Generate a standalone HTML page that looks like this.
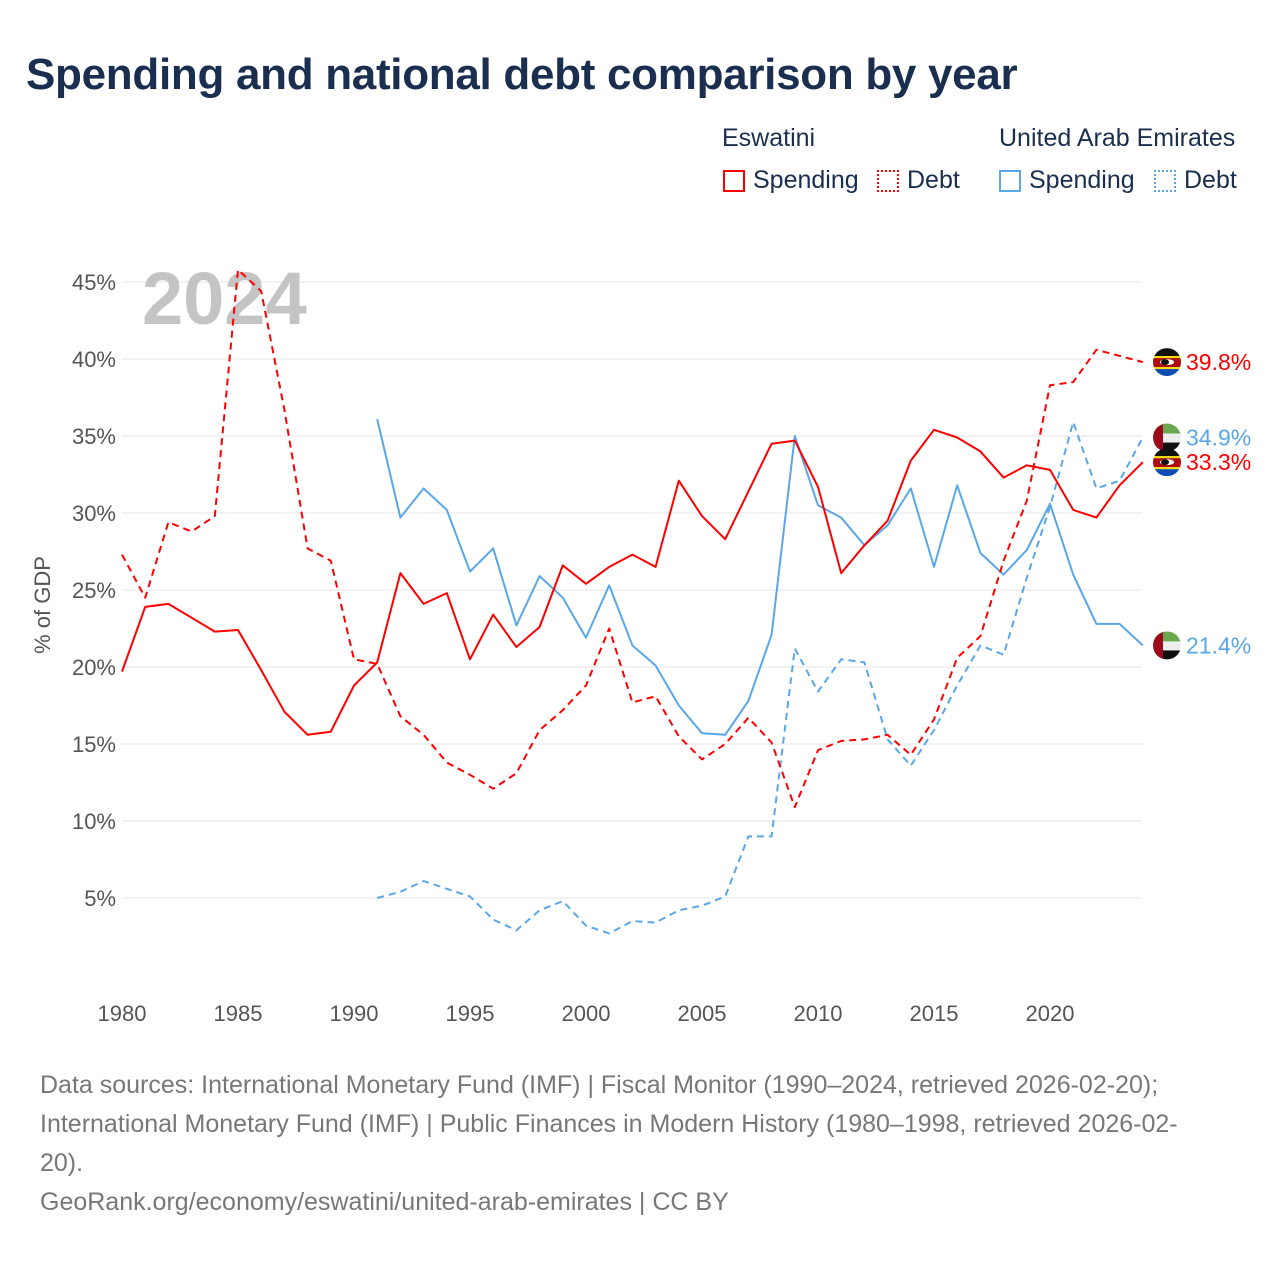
<!DOCTYPE html>
<html><head><meta charset="utf-8">
<style>
body{margin:0;background:#fff;font-family:"Liberation Sans",sans-serif;}
#wrap{position:relative;width:1280px;height:1280px;overflow:hidden;}
h1{position:absolute;left:26px;top:50px;margin:0;font-size:44px;font-weight:bold;color:#1a2e4f;letter-spacing:-0.3px;}
.src{position:absolute;left:40px;top:1066px;width:1230px;font-size:25px;line-height:39px;color:#777;white-space:nowrap;}
.lg{position:absolute;font-size:25px;color:#1a2e4f;}
.box{position:absolute;width:22px;height:22px;box-sizing:border-box;}
</style></head><body>
<div id="wrap">
<h1>Spending and national debt comparison by year</h1>
<div class="lg" style="left:722px;top:124px">Eswatini</div>
<div class="lg" style="left:999px;top:124px">United Arab Emirates</div>
<div class="box" style="left:723px;top:170px;border:2px solid #f00"></div>
<div class="lg" style="left:753px;top:166px">Spending</div>
<div class="box" style="left:877px;top:170px;border:2px dotted #f00"></div>
<div class="lg" style="left:907px;top:166px">Debt</div>
<div class="box" style="left:999px;top:170px;border:2px solid #5aa7e8"></div>
<div class="lg" style="left:1029px;top:166px">Spending</div>
<div class="box" style="left:1154px;top:170px;border:2px dotted #5aa7e8"></div>
<div class="lg" style="left:1184px;top:166px">Debt</div>
<svg id="chart" width="1280" height="1280" style="position:absolute;left:0;top:0"></svg>
<div class="src">Data sources: International Monetary Fund (IMF) | Fiscal Monitor (1990–2024, retrieved 2026-02-20);<br>International Monetary Fund (IMF) | Public Finances in Modern History (1980–1998, retrieved 2026-02-<br>20).<br>GeoRank.org/economy/eswatini/united-arab-emirates | CC BY</div>
</div>
<script>
const swzSpending=[19.7,23.9,24.1,23.2,22.3,22.4,19.8,17.1,15.6,15.8,18.8,20.3,26.1,24.1,24.8,20.5,23.4,21.3,22.6,26.6,25.4,26.5,27.3,26.5,32.1,29.8,28.3,31.4,34.5,34.7,31.7,26.1,27.9,29.5,33.4,35.4,34.9,34.0,32.3,33.1,32.8,30.2,29.7,31.8,33.3];
const swzDebt=[27.3,24.5,29.4,28.8,29.8,45.8,44.4,36.7,27.7,26.9,20.5,20.2,16.8,15.6,13.8,13.0,12.1,13.1,15.9,17.2,18.8,22.5,17.7,18.1,15.5,14.0,15.0,16.7,15.1,10.9,14.6,15.2,15.3,15.6,14.3,16.6,20.6,22.0,26.9,30.8,38.3,38.5,40.6,40.2,39.8];
const uaeSpending=[36.1,29.7,31.6,30.2,26.2,27.7,22.7,25.9,24.5,21.9,25.3,21.4,20.1,17.5,15.7,15.6,17.8,22.1,35.0,30.5,29.7,27.9,29.2,31.6,26.5,31.8,27.4,26.0,27.6,30.6,26.0,22.8,22.8,21.4];
const uaeDebt=[5.0,5.4,6.1,5.6,5.1,3.6,2.9,4.2,4.8,3.2,2.7,3.5,3.4,4.2,4.5,5.1,9.0,9.0,21.2,18.4,20.5,20.3,15.3,13.6,15.9,18.8,21.4,20.8,25.8,30.4,35.9,31.6,32.1,34.9];
const yTicks=[5,10,15,20,25,30,35,40,45];
const xTicks=[1980,1985,1990,1995,2000,2005,2010,2015,2020];
const NS="http://www.w3.org/2000/svg";
const svg=document.getElementById('chart');
const X=yr=>122+(yr-1980)*23.2;
const Y=v=>975-v*15.4;
function mk(t,a){const e=document.createElementNS(NS,t);for(const k in a)e.setAttribute(k,a[k]);svg.appendChild(e);return e;}
yTicks.forEach(v=>{
  const l=mk('line',{x1:122,x2:1142,y1:Y(v),y2:Y(v),stroke:'#e6e6e6','stroke-width':1});
  
  
  const t=mk('text',{x:116,y:Y(v)+8,'text-anchor':'end','font-size':22,fill:'#555','font-family':'Liberation Sans, sans-serif'});
  t.textContent=v+'%';
  
  
});
xTicks.forEach(yr=>{
  const t=mk('text',{x:X(yr),y:1021,'text-anchor':'middle','font-size':22,fill:'#555','font-family':'Liberation Sans, sans-serif'});
  t.textContent=yr;
  
  
});
const yt=mk('text',{x:50,y:605,'text-anchor':'middle','font-size':22,fill:'#555',transform:'rotate(-90 50 605)','font-family':'Liberation Sans, sans-serif'});
yt.textContent='% of GDP';


const yr=mk('text',{x:142,y:324,'font-size':74,'font-weight':'bold',fill:'#c4c4c4','font-family':'Liberation Sans, sans-serif'});
yr.textContent='2024';


function line(data,start,color,dash,name){
  const pts=data.map((v,i)=>X(start+i).toFixed(1)+','+Y(v).toFixed(1)).join(' ');
  const p=mk('polyline',{points:pts,fill:'none',stroke:color,'stroke-width':2,'stroke-dasharray':dash||'none','stroke-linejoin':'round'});
  
  
}
line(uaeDebt,1991,'#5aa7e8','7,5','line-uae-debt');
line(uaeSpending,1991,'#5aa7e8','','line-uae-spending');
line(swzDebt,1980,'#f00','7,5','line-eswatini-debt');
line(swzSpending,1980,'#f00','','line-eswatini-spending');
function flag(cy,type,name){
  const g=document.createElementNS(NS,'g');svg.appendChild(g);
  
  
  const cx=1167,r=14;
  const id='c'+Math.round(cy);
  const d=document.createElementNS(NS,'clipPath');d.setAttribute('id',id);
  const c=document.createElementNS(NS,'circle');c.setAttribute('cx',cx);c.setAttribute('cy',cy);c.setAttribute('r',r);d.appendChild(c);g.appendChild(d);
  const rect=(x,y,w,h,f)=>{const e=document.createElementNS(NS,'rect');e.setAttribute('x',x);e.setAttribute('y',y);e.setAttribute('width',w);e.setAttribute('height',h);e.setAttribute('fill',f);e.setAttribute('clip-path','url(#'+id+')');g.appendChild(e);};
  if(type==='swz'){
    rect(cx-r,cy-r,28,8,'#111');rect(cx-r,cy-6,28,2,'#fd0');rect(cx-r,cy-4,28,9,'#b10c0c');rect(cx-r,cy+5,28,2,'#fd0');rect(cx-r,cy+7,28,7,'#0b4db0');
    const e=document.createElementNS(NS,'ellipse');e.setAttribute('cx',cx);e.setAttribute('cy',cy);e.setAttribute('rx',7);e.setAttribute('ry',3);e.setAttribute('fill','#fff');g.appendChild(e);
    const e2=document.createElementNS(NS,'ellipse');e2.setAttribute('cx',cx-2);e2.setAttribute('cy',cy);e2.setAttribute('rx',4);e2.setAttribute('ry',3);e2.setAttribute('fill','#111');g.appendChild(e2);
  }else{
    rect(cx-r,cy-r,28,10,'#6aa84f');rect(cx-r,cy-4,28,9,'#eee');rect(cx-r,cy+5,28,9,'#111');rect(cx-r,cy-r,10,28,'#9b0b1b');
  }
}
function label(v,color,name){
  const t=mk('text',{x:1186,y:Y(v)+8,'font-size':23,fill:color,'font-family':'Liberation Sans, sans-serif'});
  t.textContent=v.toFixed(1)+'%';
  
  
}
const lastSD=swzDebt[swzDebt.length-1],lastSS=swzSpending[swzSpending.length-1],lastUD=uaeDebt[uaeDebt.length-1],lastUS=uaeSpending[uaeSpending.length-1];
flag(Y(lastSD),'swz','flag-eswatini-debt');label(lastSD,'#f00','end-label-eswatini-debt');
flag(Y(lastUD),'uae','flag-uae-debt');label(lastUD,'#5aa7e8','end-label-uae-debt');
flag(Y(lastSS),'swz','flag-eswatini-spending');label(lastSS,'#f00','end-label-eswatini-spending');
flag(Y(lastUS),'uae','flag-uae-spending');label(lastUS,'#5aa7e8','end-label-uae-spending');
</script>
</body></html>
